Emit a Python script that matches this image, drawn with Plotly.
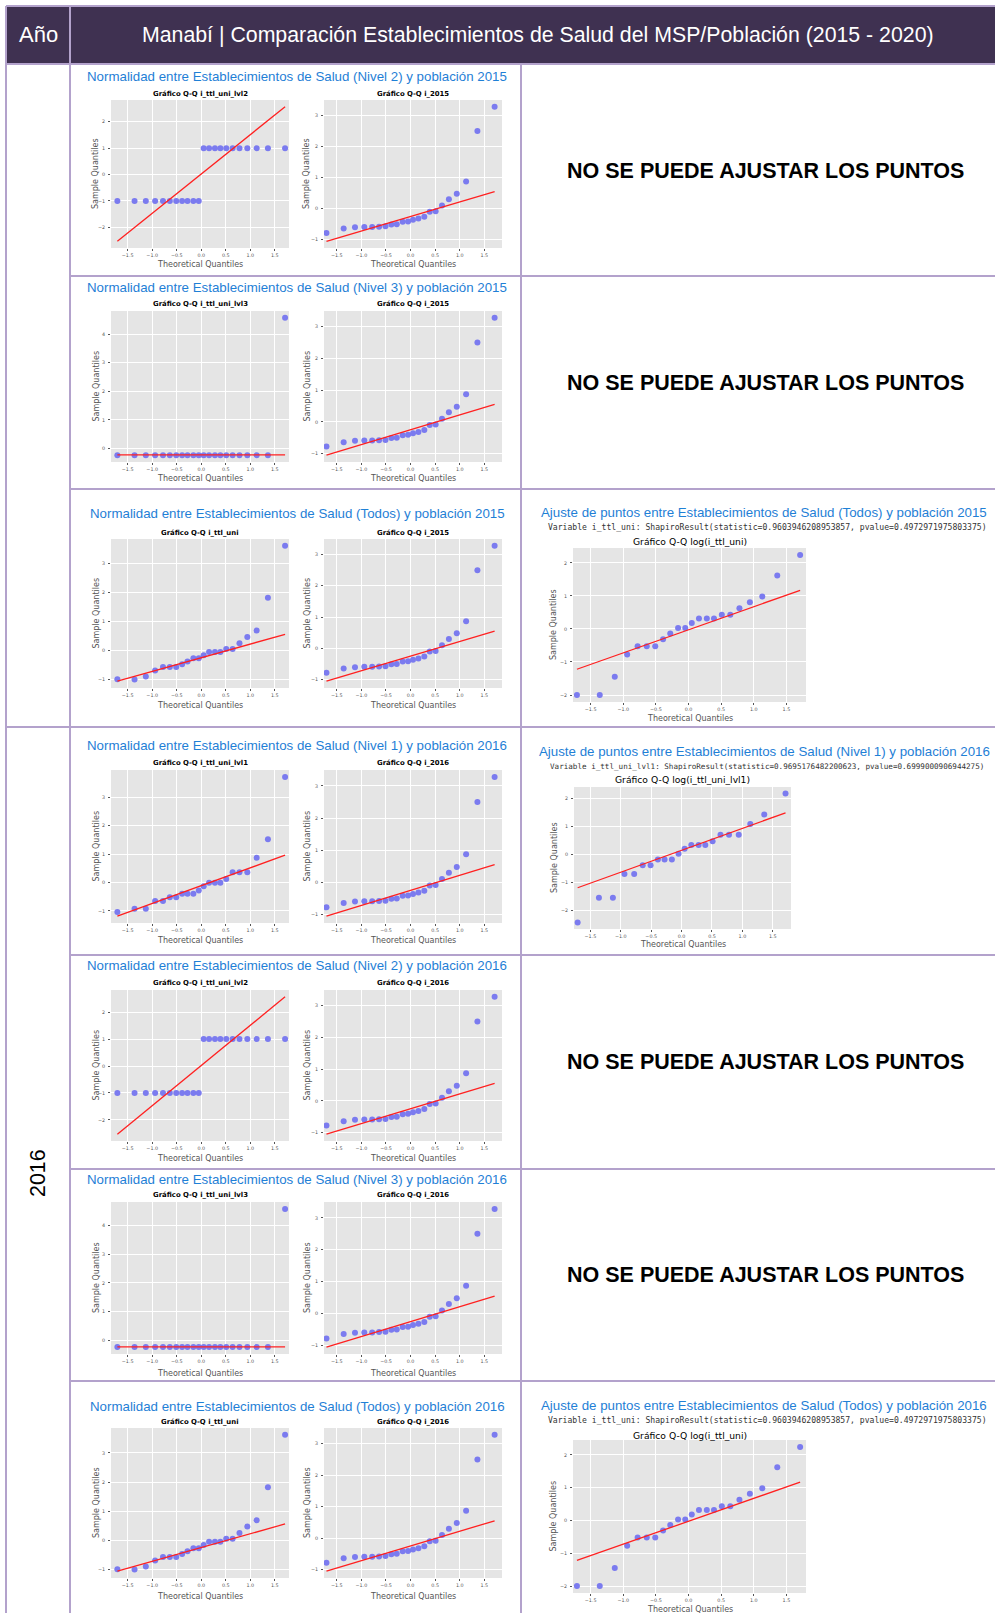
import plotly.graph_objects as go

W, H = 995, 1613

# ---------------- DATA ----------------
theo_q = [-1.71, -1.36, -1.13, -0.94, -0.78, -0.64, -0.51, -0.39, -0.28, -0.16, -0.05,
          0.05, 0.16, 0.28, 0.39, 0.51, 0.64, 0.78, 0.94, 1.13, 1.36, 1.71]

q_lvl2 = [-1, -1, -1, -1, -1, -1, -1, -1, -1, -1, -1,
          1, 1, 1, 1, 1, 1, 1, 1, 1, 1, 1]
q_lvl3 = [-0.23, -0.23, -0.23, -0.23, -0.23, -0.23, -0.23, -0.23, -0.23, -0.23, -0.23,
          -0.23, -0.23, -0.23, -0.23, -0.23, -0.23, -0.23, -0.23, -0.23, -0.23, 4.57]
q_i2015 = [-0.78, -0.64, -0.60, -0.59, -0.59, -0.58, -0.57, -0.51, -0.50, -0.42, -0.41,
           -0.36, -0.32, -0.26, -0.10, -0.08, 0.10, 0.30, 0.48, 0.87, 2.50, 3.28]
q_i2016 = [-0.78, -0.64, -0.60, -0.59, -0.59, -0.58, -0.57, -0.51, -0.50, -0.42, -0.41,
           -0.36, -0.32, -0.26, -0.10, -0.08, 0.10, 0.30, 0.48, 0.87, 2.50, 3.28]
q_ttl = [-0.99, -1.00, -0.90, -0.69, -0.57, -0.57, -0.57, -0.47, -0.38, -0.27, -0.27,
         -0.16, -0.05, -0.05, -0.05, 0.05, 0.05, 0.25, 0.47, 0.69, 1.82, 3.62]
q_lvl1 = [-1.04, -0.92, -0.92, -0.65, -0.65, -0.52, -0.52, -0.40, -0.40, -0.40, -0.28,
          -0.13, -0.01, -0.01, -0.01, 0.12, 0.36, 0.36, 0.36, 0.87, 1.52, 3.71]
q_log_ttl = [-2.00, -2.00, -1.45, -0.77, -0.52, -0.52, -0.52, -0.31, -0.14, 0.03, 0.03,
             0.18, 0.32, 0.32, 0.32, 0.43, 0.43, 0.63, 0.81, 0.98, 1.62, 2.24]
q_log_lvl1 = [-2.43, -1.55, -1.55, -0.70, -0.70, -0.39, -0.39, -0.18, -0.18, -0.18, 0.02,
              0.20, 0.33, 0.33, 0.33, 0.47, 0.70, 0.70, 0.70, 1.08, 1.42, 2.17]

# fitted reference lines: sample-quantile value at first and last theoretical quantile
line_lvl2 = [-2.53, 2.57]
line_lvl3 = [-0.22, -0.22]
line_i2015 = [-1.05, 0.55]
line_i2016 = [-1.05, 0.55]
line_ttl = [-1.06, 0.56]
line_lvl1 = [-1.18, 0.96]
line_log_ttl = [-1.22, 1.17]
line_log_lvl1 = [-1.19, 1.48]

row_levels = ["Nivel 2", "Nivel 3", "Todos", "Nivel 1", "Nivel 2", "Nivel 3", "Todos"]
row_years = ["2015", "2015", "2015", "2016", "2016", "2016", "2016"]
left_vars = ["i_ttl_uni_lvl2", "i_ttl_uni_lvl3", "i_ttl_uni", "i_ttl_uni_lvl1",
             "i_ttl_uni_lvl2", "i_ttl_uni_lvl3", "i_ttl_uni"]
left_samples = [q_lvl2, q_lvl3, q_ttl, q_lvl1, q_lvl2, q_lvl3, q_ttl]
left_lines = [line_lvl2, line_lvl3, line_ttl, line_lvl1, line_lvl2, line_lvl3, line_ttl]
mid_vars = ["i_2015", "i_2015", "i_2015", "i_2016", "i_2016", "i_2016", "i_2016"]
mid_samples = [q_i2015, q_i2015, q_i2015, q_i2016, q_i2016, q_i2016, q_i2016]
mid_lines = [line_i2015, line_i2015, line_i2015, line_i2016, line_i2016, line_i2016, line_i2016]

right_rows = [2, 3, 6]
right_levels = ["Todos", "Nivel 1", "Todos"]
right_years = ["2015", "2016", "2016"]
right_vars = ["i_ttl_uni", "i_ttl_uni_lvl1", "i_ttl_uni"]
right_samples = [q_log_ttl, q_log_lvl1, q_log_ttl]
right_lines = [line_log_ttl, line_log_lvl1, line_log_ttl]
right_stats = ["0.9603946208953857", "0.9695176482200623", "0.9603946208953857"]
right_pvals = ["0.4972971975803375", "0.6999000906944275", "0.4972971975803375"]

header_year = "Año"
header_title = "Manabí | Comparación Establecimientos de Salud del MSP/Población (2015 - 2020)"
no_fit_text = "NO SE PUEDE AJUSTAR LOS PUNTOS"

# ---------------- LAYOUT (pixel geometry) ----------------
BORDER = "#b3a2cc"
HEADER_BG = "#3f3151"
BLUE = "#1f80d6"
PT_COLOR = "#7b7bef"
LINE_COLOR = "#ff2020"
PANEL_BG = "#e5e5e5"
GRAY = "#555555"

# top, bottom, blue_y, ptitle_y, plot_y0, plot_y1, xlabel_y
rows_px = [
    (64, 276, 77, 94, 100, 248, 265),
    (276, 489, 288, 304, 311, 462, 479),
    (489, 727, 514, 533, 539, 688, 705),
    (727, 955, 745, 763, 770, 923, 940),
    (955, 1169, 965, 983, 990, 1141, 1158),
    (1169, 1381, 1179, 1195, 1202, 1354, 1373),
    (1381, 1613, 1406, 1422, 1428, 1578, 1596),
]
LEFT_X = (111, 289)
MID_X = (324, 502)
# blue_y, var_y, title_y, x0, x1, y0, y1, xlabel_y, var_font
right_px = [
    (513, 527, 542, 573, 806, 548, 702, 718, 8.1),
    (751, 766, 779, 574, 791, 787, 929, 944, 7.6),
    (1405, 1420, 1435, 573, 806, 1440, 1593, 1609, 8.1),
]
nofit_y = {0: 171, 1: 383, 4: 1062, 5: 1275}


def px(x):
    return x / W


def py(y):
    return 1 - y / H


fig = go.Figure()
layout = {}
annotations = []
shapes = []
counter = [0]


def add_text(x, y, text, size, color="black", family="Liberation Sans", angle=0, xanchor="center"):
    annotations.append(dict(
        x=px(x), y=py(y), xref="paper", yref="paper", text=text, showarrow=False,
        xanchor=xanchor, yanchor="middle", textangle=angle,
        font=dict(size=size, color=color, family=family)))


def add_qq(x0, x1, y0, y1, xs, ys, line, xrange):
    counter[0] += 1
    n = counter[0]
    xa = "x" if n == 1 else f"x{n}"
    ya = "y" if n == 1 else f"y{n}"
    fig.add_trace(go.Scatter(x=xs, y=ys, mode="markers", xaxis=xa, yaxis=ya,
                             marker=dict(color=PT_COLOR, size=6, line=dict(width=0)),
                             showlegend=False, hoverinfo="x+y"))
    fig.add_trace(go.Scatter(x=[xs[0], xs[-1]], y=line, mode="lines", xaxis=xa, yaxis=ya,
                             line=dict(color=LINE_COLOR, width=1.3),
                             showlegend=False, hoverinfo="skip"))
    vals = list(ys) + list(line)
    lo, hi = min(vals), max(vals)
    pad = (hi - lo) * 0.05
    common = dict(showgrid=True, gridcolor="white", gridwidth=0.8, zeroline=False,
                  showline=False, ticks="outside", ticklen=2, tickwidth=0.6,
                  tickcolor=GRAY, tickfont=dict(size=4.8, color=GRAY, family="DejaVu Sans"),
                  fixedrange=True)
    layout["xaxis" if n == 1 else f"xaxis{n}"] = dict(
        domain=[px(x0), px(x1)], anchor=ya, range=xrange, dtick=0.5, tick0=0,
        tickformat=".1f", **common)
    layout["yaxis" if n == 1 else f"yaxis{n}"] = dict(
        domain=[py(y1), py(y0)], anchor=xa, range=[lo - pad, hi + pad], dtick=1, tick0=0,
        ticklabelstandoff=2, **common)
    shapes.append(dict(type="rect", xref="paper", yref="paper", layer="below",
                       x0=px(x0), x1=px(x1), y0=py(y1), y1=py(y0),
                       fillcolor=PANEL_BG, line=dict(width=0)))


# left & middle plots
for i, r in enumerate(rows_px):
    top, bot, blue_y, pt_y, y0, y1, xl_y = r
    add_text(297, blue_y,
             f"Normalidad entre Establecimientos de Salud ({row_levels[i]}) y población {row_years[i]}",
             13.3, BLUE)
    # left
    add_qq(LEFT_X[0], LEFT_X[1], y0, y1, theo_q, left_samples[i], left_lines[i], [-1.84, 1.79])
    add_text((LEFT_X[0] + LEFT_X[1]) / 2, pt_y, f"<b>Gráfico Q-Q {left_vars[i]}</b>", 6.9,
             "black", "DejaVu Sans")
    add_text((LEFT_X[0] + LEFT_X[1]) / 2, xl_y, "Theoretical Quantiles", 8, GRAY, "DejaVu Sans")
    add_text(LEFT_X[0] - 15, (y0 + y1) / 2, "Sample Quantiles", 8, GRAY, "DejaVu Sans", -90)
    # middle
    add_qq(MID_X[0], MID_X[1], y0, y1, theo_q, mid_samples[i], mid_lines[i], [-1.76, 1.86])
    add_text((MID_X[0] + MID_X[1]) / 2, pt_y, f"<b>Gráfico Q-Q {mid_vars[i]}</b>", 6.9,
             "black", "DejaVu Sans")
    add_text((MID_X[0] + MID_X[1]) / 2, xl_y, "Theoretical Quantiles", 8, GRAY, "DejaVu Sans")
    add_text(MID_X[0] - 17, (y0 + y1) / 2, "Sample Quantiles", 8, GRAY, "DejaVu Sans", -90)

# right-hand log plots
for k, ri in enumerate(right_rows):
    blue_y, var_y, t_y, x0, x1, y0, y1, xl_y, vf = right_px[k]
    add_text(764, blue_y,
             f"Ajuste de puntos entre Establecimientos de Salud ({right_levels[k]}) y población {right_years[k]}",
             13.3, BLUE)
    add_text(767, var_y,
             f"Variable {right_vars[k]}: ShapiroResult(statistic={right_stats[k]}, pvalue={right_pvals[k]})",
             vf, "#333333", "DejaVu Sans Mono")
    add_qq(x0, x1, y0, y1, theo_q, right_samples[k], right_lines[k], [-1.77, 1.80])
    add_text((x0 + x1) / 2, t_y, f"Gráfico Q-Q log({right_vars[k]})", 9.2, "black", "DejaVu Sans")
    add_text((x0 + x1) / 2, xl_y, "Theoretical Quantiles", 8, GRAY, "DejaVu Sans")
    add_text(x0 - 20, (y0 + y1) / 2, "Sample Quantiles", 8, GRAY, "DejaVu Sans", -90)

for ri, yy in nofit_y.items():
    add_text(765, yy, f"<b>{no_fit_text}</b>", 21.5, "black", "Liberation Sans")

# header
shapes.append(dict(type="rect", xref="paper", yref="paper", layer="below",
                   x0=px(6), x1=px(W), y0=py(64), y1=py(6),
                   fillcolor=HEADER_BG, line=dict(width=0)))
add_text(38, 35, header_year, 22, "white", "Liberation Sans")
add_text(538, 35, header_title, 21.3, "white", "Liberation Sans")
add_text(38, 1173, "2016", 21.4, "black", "Liberation Sans", -90)


def hline(y, xa, xb):
    shapes.append(dict(type="line", xref="paper", yref="paper", x0=px(xa), x1=px(xb),
                       y0=py(y), y1=py(y), line=dict(color=BORDER, width=2)))


def vline(x, ya, yb):
    shapes.append(dict(type="line", xref="paper", yref="paper", x0=px(x), x1=px(x),
                       y0=py(ya), y1=py(yb), line=dict(color=BORDER, width=2)))


hline(6, 6, W)
hline(64, 6, W)
hline(727, 6, W)
for yy in [276, 489, 955, 1169, 1381]:
    hline(yy, 70, W)
vline(6, 6, H)
vline(70, 6, H)
vline(521, 64, H)

fig.update_layout(
    width=W, height=H, margin=dict(l=0, r=0, t=0, b=0),
    paper_bgcolor="white", plot_bgcolor="rgba(0,0,0,0)",
    showlegend=False, annotations=annotations, shapes=shapes, **layout)

fig.write_html("out.html", config={"displayModeBar": False},
               post_script="document.body.style.margin='0px';")
